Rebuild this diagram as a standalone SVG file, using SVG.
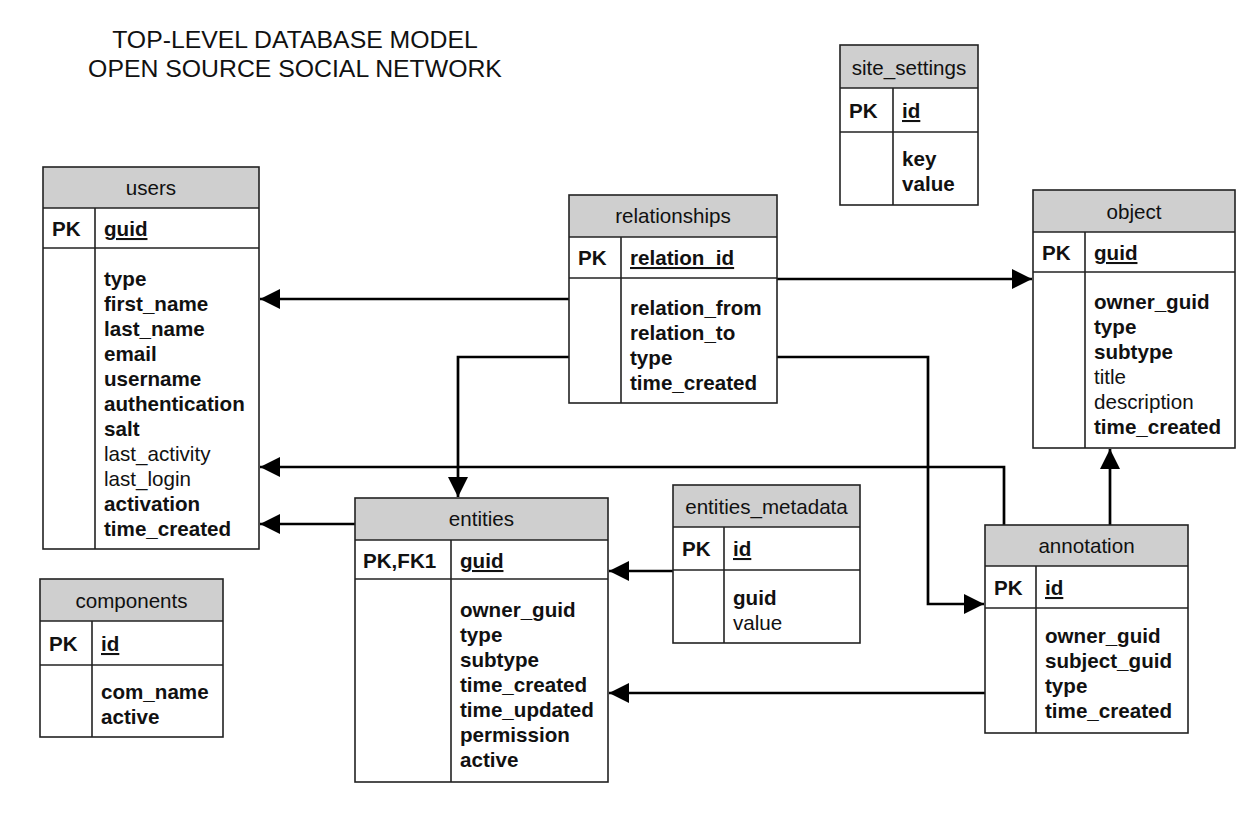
<svg xmlns="http://www.w3.org/2000/svg" width="1253" height="827" viewBox="0 0 1253 827">
<defs>
<style>
text{font-family:"Liberation Sans",Arial,sans-serif;font-size:20.6px;fill:#111}
.t{font-size:24.8px;text-anchor:middle}
.h{text-anchor:middle}
.b{font-weight:bold}
.u{font-weight:bold;text-decoration:underline}
.hd{fill:#cfcfcf;stroke:none}
.box{fill:none;stroke:#222;stroke-width:1.6}
.ln{stroke:#222;stroke-width:1.6}
.c{fill:none;stroke:#000;stroke-width:2.7;marker-end:url(#a)}
</style>
<marker id="a" viewBox="0 0 20 20" refX="20" refY="10" markerWidth="20" markerHeight="20" markerUnits="userSpaceOnUse" orient="auto">
<path d="M0,0 L20,10 L0,20 z" fill="#000"/>
</marker>
</defs>
<rect width="1253" height="827" fill="#fff"/>
<g id="title">
<text class="t" x="295" y="48">TOP-LEVEL DATABASE MODEL</text>
<text class="t" x="295" y="77">OPEN SOURCE SOCIAL NETWORK</text>
</g>
<g id="connectors">
<path class="c" d="M569,299 H260"/>
<path class="c" d="M569,357 H458 V497"/>
<path class="c" d="M1004,525 V467 H260"/>
<path class="c" d="M355,524 H260"/>
<path class="c" d="M777,279 H1032"/>
<path class="c" d="M777,357 H928 V604 H984"/>
<path class="c" d="M673,571 H609"/>
<path class="c" d="M985,693 H609"/>
<path class="c" d="M1110,525 V449"/>
</g>
<g id="users">
<rect class="hd" x="43" y="167" width="216" height="41"/>
<rect class="box" x="43" y="167" width="216" height="382"/>
<line class="ln" x1="43" y1="208" x2="259" y2="208"/>
<line class="ln" x1="43" y1="248" x2="259" y2="248"/>
<line class="ln" x1="95" y1="208" x2="95" y2="549"/>
<text class="h" x="151" y="195">users</text>
<text class="b" x="52" y="236">PK</text>
<text class="u" x="104" y="236">guid</text>
<text class="b" x="104" y="286">type</text>
<text class="b" x="104" y="311">first_name</text>
<text class="b" x="104" y="336">last_name</text>
<text class="b" x="104" y="361">email</text>
<text class="b" x="104" y="386">username</text>
<text class="b" x="104" y="411">authentication</text>
<text class="b" x="104" y="436">salt</text>
<text x="104" y="461">last_activity</text>
<text x="104" y="486">last_login</text>
<text class="b" x="104" y="511">activation</text>
<text class="b" x="104" y="536">time_created</text>
</g>
<g id="relationships">
<rect class="hd" x="569" y="195" width="208" height="42"/>
<rect class="box" x="569" y="195" width="208" height="208"/>
<line class="ln" x1="569" y1="237" x2="777" y2="237"/>
<line class="ln" x1="569" y1="278" x2="777" y2="278"/>
<line class="ln" x1="621" y1="237" x2="621" y2="403"/>
<text class="h" x="673" y="223">relationships</text>
<text class="b" x="578" y="265">PK</text>
<text class="u" x="630" y="265">relation_id</text>
<text class="b" x="630" y="315">relation_from</text>
<text class="b" x="630" y="340">relation_to</text>
<text class="b" x="630" y="365">type</text>
<text class="b" x="630" y="390">time_created</text>
</g>
<g id="entities">
<rect class="hd" x="355" y="498" width="253" height="42"/>
<rect class="box" x="355" y="498" width="253" height="284"/>
<line class="ln" x1="355" y1="540" x2="608" y2="540"/>
<line class="ln" x1="355" y1="579" x2="608" y2="579"/>
<line class="ln" x1="451" y1="540" x2="451" y2="782"/>
<text class="h" x="481.5" y="526">entities</text>
<text class="b" x="363" y="568">PK,FK1</text>
<text class="u" x="460" y="568">guid</text>
<text class="b" x="460" y="617">owner_guid</text>
<text class="b" x="460" y="642">type</text>
<text class="b" x="460" y="667">subtype</text>
<text class="b" x="460" y="692">time_created</text>
<text class="b" x="460" y="717">time_updated</text>
<text class="b" x="460" y="742">permission</text>
<text class="b" x="460" y="767">active</text>
</g>
<g id="entities_metadata">
<rect class="hd" x="673" y="485" width="187" height="42"/>
<rect class="box" x="673" y="485" width="187" height="158"/>
<line class="ln" x1="673" y1="527" x2="860" y2="527"/>
<line class="ln" x1="673" y1="570" x2="860" y2="570"/>
<line class="ln" x1="724" y1="527" x2="724" y2="643"/>
<text class="h" x="766.5" y="514">entities_metadata</text>
<text class="b" x="682" y="556">PK</text>
<text class="u" x="733" y="556">id</text>
<text class="b" x="733" y="605">guid</text>
<text x="733" y="630">value</text>
</g>
<g id="annotation">
<rect class="hd" x="985" y="525" width="203" height="41"/>
<rect class="box" x="985" y="525" width="203" height="208"/>
<line class="ln" x1="985" y1="566" x2="1188" y2="566"/>
<line class="ln" x1="985" y1="608" x2="1188" y2="608"/>
<line class="ln" x1="1036" y1="566" x2="1036" y2="733"/>
<text class="h" x="1086.5" y="553">annotation</text>
<text class="b" x="994" y="595">PK</text>
<text class="u" x="1045" y="595">id</text>
<text class="b" x="1045" y="643">owner_guid</text>
<text class="b" x="1045" y="668">subject_guid</text>
<text class="b" x="1045" y="693">type</text>
<text class="b" x="1045" y="718">time_created</text>
</g>
<g id="object">
<rect class="hd" x="1033" y="190" width="202" height="42"/>
<rect class="box" x="1033" y="190" width="202" height="258"/>
<line class="ln" x1="1033" y1="232" x2="1235" y2="232"/>
<line class="ln" x1="1033" y1="272" x2="1235" y2="272"/>
<line class="ln" x1="1085" y1="232" x2="1085" y2="448"/>
<text class="h" x="1134" y="219">object</text>
<text class="b" x="1042" y="260">PK</text>
<text class="u" x="1094" y="260">guid</text>
<text class="b" x="1094" y="309">owner_guid</text>
<text class="b" x="1094" y="334">type</text>
<text class="b" x="1094" y="359">subtype</text>
<text x="1094" y="384">title</text>
<text x="1094" y="409">description</text>
<text class="b" x="1094" y="434">time_created</text>
</g>
<g id="site_settings">
<rect class="hd" x="840" y="45" width="138" height="43"/>
<rect class="box" x="840" y="45" width="138" height="160"/>
<line class="ln" x1="840" y1="88" x2="978" y2="88"/>
<line class="ln" x1="840" y1="132" x2="978" y2="132"/>
<line class="ln" x1="893" y1="88" x2="893" y2="205"/>
<text class="h" x="909" y="75">site_settings</text>
<text class="b" x="849" y="118">PK</text>
<text class="u" x="902" y="118">id</text>
<text class="b" x="902" y="166">key</text>
<text class="b" x="902" y="191">value</text>
</g>
<g id="components">
<rect class="hd" x="40" y="579" width="183" height="42"/>
<rect class="box" x="40" y="579" width="183" height="158"/>
<line class="ln" x1="40" y1="621" x2="223" y2="621"/>
<line class="ln" x1="40" y1="665" x2="223" y2="665"/>
<line class="ln" x1="92" y1="621" x2="92" y2="737"/>
<text class="h" x="131.5" y="608">components</text>
<text class="b" x="49" y="651">PK</text>
<text class="u" x="101" y="651">id</text>
<text class="b" x="101" y="699">com_name</text>
<text class="b" x="101" y="724">active</text>
</g>
</svg>
